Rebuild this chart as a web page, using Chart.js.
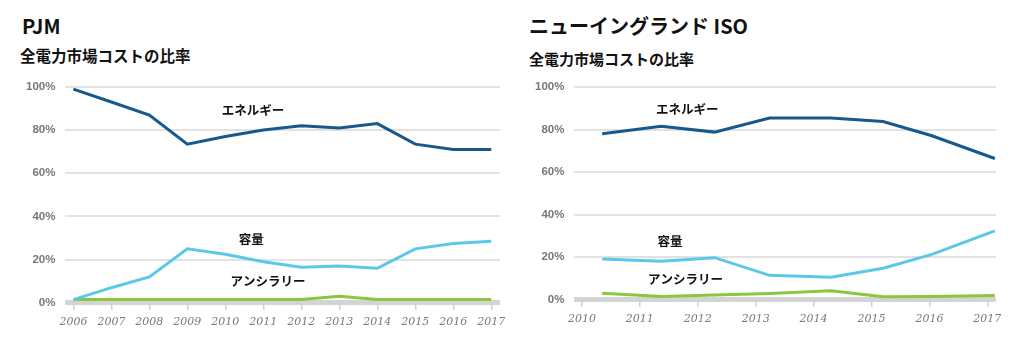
<!DOCTYPE html>
<html>
<head>
<meta charset="utf-8">
<script src="https://cdn.jsdelivr.net/npm/chart.js@4"></script>
<style>
  body { margin: 0; width: 1024px; height: 353px; background: #fff; position: relative; overflow: hidden;
         font-family: "Noto Sans CJK JP", "Noto Sans", sans-serif; }
  .title { position: absolute; font-weight: bold; font-size: 20px; color: #111; line-height: 1; }
  .sub { position: absolute; font-weight: bold; font-size: 15.5px; color: #111; line-height: 1; }
  canvas { position: absolute; top: 70px; }
</style>
</head>
<body>
<div class="title" style="left:22px;top:16px;">PJM</div>
<div class="sub" style="left:20px;top:48px;">全電力市場コストの比率</div>
<div class="title" style="left:529px;top:16px;">ニューイングランド ISO</div>
<div class="sub" style="left:529px;top:51px;font-size:15px;">全電力市場コストの比率</div>

<canvas id="pjm" width="512" height="283" style="left:0px;"></canvas>
<canvas id="iso" width="512" height="283" style="left:512px;"></canvas>

<script>
// PJM
let pjmYears = [2006, 2007, 2008, 2009, 2010, 2011, 2012, 2013, 2014, 2015, 2016, 2017];
let pjmEnergy = [99, 93, 87, 73.5, 77, 80, 82, 81, 83, 73.5, 71, 71];
let pjmCapacity = [1.5, 7, 12, 25, 22.5, 19, 16.5, 17, 16, 25, 27.5, 28.5];
let pjmAncillary = [1.5, 1.5, 1.5, 1.5, 1.5, 1.5, 1.5, 3, 1.5, 1.5, 1.5, 1.5];

// ISO New England (points sit between the year ticks)
let isoTickYears = [2010, 2011, 2012, 2013, 2014, 2015, 2016, 2017];
let isoX = [2010.35, 2011.37, 2012.29, 2013.24, 2014.3, 2015.2, 2016.03, 2017.13];
let isoEnergy = [78, 81.5, 78.8, 85.4, 85.4, 83.8, 77.2, 66.4];
let isoCapacity = [19.2, 18.1, 19.8, 11.5, 10.6, 14.8, 21.2, 32.4];
let isoAncillary = [3.1, 1.6, 2.2, 3, 4.2, 1.4, 1.6, 2];

let seriesNames = ['エネルギー', '容量', 'アンシラリー'];
let colorHex = ['#17598c', '#5bc8e8', '#8cc63e'];

// text labels placed next to the lines, in data units
const lineLabels = {
  id: 'lineLabels',
  afterDatasetsDraw(chart, args, opts) {
    let ctx = chart.ctx;
    let xs = chart.scales.x, ys = chart.scales.y;
    ctx.save();
    ctx.font = 'bold 12.5px "Noto Sans CJK JP"';
    ctx.fillStyle = '#111';
    ctx.textAlign = 'center';
    ctx.textBaseline = 'middle';
    opts.spots.forEach((s, i) => {
      ctx.fillText(seriesNames[i], xs.getPixelForValue(s[0]), ys.getPixelForValue(s[1]));
    });
    ctx.restore();
  }
};

function pts(xv, yv) {
  return xv.map((x, i) => ({ x: x, y: yv[i] }));
}

function makeChart(id, xv, tickYears, vals, xmin, xmax, pad, spots) {
  return new Chart(document.getElementById(id).getContext('2d'), {
    type: 'line',
    data: {
      datasets: vals.map((v, i) => ({
        label: seriesNames[i],
        data: pts(xv, v),
        borderColor: colorHex[i],
        borderWidth: 3,
        pointRadius: 0,
        tension: 0,
        fill: false
      }))
    },
    options: {
      responsive: false,
      animation: false,
      layout: { padding: pad },
      plugins: {
        legend: { display: false },
        tooltip: { enabled: false },
        lineLabels: { spots: spots }
      },
      scales: {
        x: {
          type: 'linear',
          min: xmin,
          max: xmax,
          afterBuildTicks: (axis) => { axis.ticks = tickYears.map(v => ({ value: v })); },
          grid: { drawOnChartArea: false, drawTicks: true, tickLength: 7, color: '#cfcfcf', lineWidth: 1.5 },
          border: { display: false },
          ticks: {
            autoSkip: false,
            maxRotation: 0,
            padding: 6,
            color: '#7a7a7a',
            font: { family: '"DejaVu Serif"', style: 'italic', size: 11 },
            callback: (v) => String(v)
          }
        },
        y: {
          min: 0,
          max: 100,
          ticks: {
            stepSize: 20,
            padding: 10,
            color: '#777',
            font: { family: '"Liberation Sans"', weight: 'bold', size: 11.5 },
            callback: (v) => v + '%'
          },
          grid: {
            drawTicks: false,
            color: (c) => c.tick && c.tick.value === 0 ? '#d4d4d4' : '#e2e2e2',
            lineWidth: (c) => c.tick && c.tick.value === 0 ? 5 : 2
          },
          border: { display: false }
        }
      }
    },
    plugins: [lineLabels]
  });
}

makeChart('pjm', pjmYears, pjmYears, [pjmEnergy, pjmCapacity, pjmAncillary],
  2005.79, 2017.23, { left: 16, right: 12, top: 15, bottom: 18 },
  [[2010.73, 89], [2010.68, 29.4], [2011.12, 10.1]]);

makeChart('iso', isoX, isoTickYears, [isoEnergy, isoCapacity, isoAncillary],
  2009.87, 2017.15, { left: 13, right: 28, top: 17, bottom: 21 },
  [[2011.82, 89.7], [2011.52, 27.6], [2011.79, 9.8]]);
</script>
</body>
</html>
